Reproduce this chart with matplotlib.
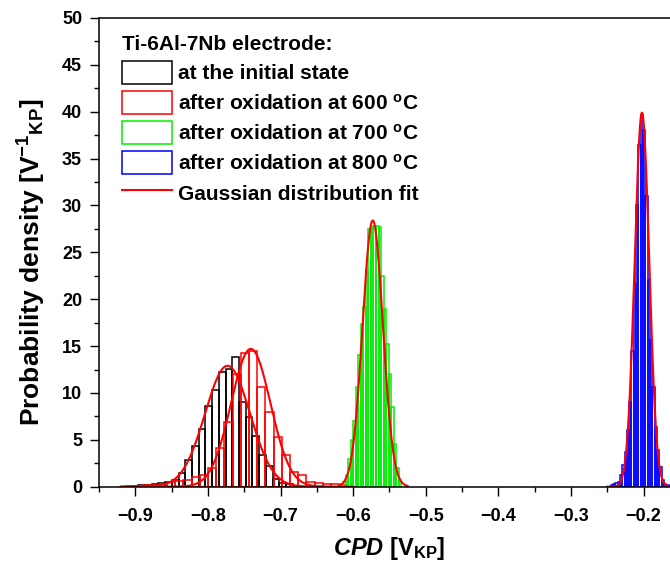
import numpy as np
import matplotlib.pyplot as plt
from matplotlib.patches import Patch
from matplotlib.lines import Line2D

plt.rcParams.update({
    'font.family': 'Liberation Sans',
    'font.weight': 'bold',
    'axes.labelweight': 'bold',
    'mathtext.fontset': 'custom',
    'mathtext.rm': 'Liberation Sans:bold',
    'mathtext.bf': 'Liberation Sans:bold',
    'mathtext.it': 'Liberation Sans:bold:italic',
    'mathtext.default': 'rm',
})

# histograms: left edge of first bin, bin width, bar heights
init_start, init_width = -0.9052, 0.00925
init_heights = [0.1, 0.15, 0.2, 0.3, 0.35, 0.5, 0.7, 1.5, 2.8, 4.3, 6.2, 8.6,
                10.3, 12.2, 12.6, 13.8, 9.0, 7.4, 5.4, 3.4, 2.2, 0.8, 0.4, 0.25]

ox600_start, ox600_width = -0.9130, 0.0113
ox600_heights = [0.05, 0.1, 0.15, 0.2, 0.3, 0.5, 0.6, 0.7, 1.0, 1.2, 2.0, 4.1,
                 6.9, 12.0, 14.3, 14.5, 10.6, 8.0, 5.3, 3.4, 1.6, 1.2, 0.5,
                 0.35, 0.3, 0.25, 0.2]

ox700_start, ox700_width = -0.6175, 0.0035
ox700_heights = [0.3, 0.5, 1.2, 3.0, 5.0, 7.0, 10.6, 14.0, 17.4, 19.2, 23.0,
                 27.5, 27.7, 27.8, 27.8, 27.7, 22.5, 19.0, 15.2, 12.0, 8.5,
                 4.6, 2.0, 0.6]

ox800_start, ox800_width = -0.2454, 0.0032
ox800_heights = [0.2, 0.3, 0.35, 0.5, 1.2, 2.3, 3.7, 6.0, 9.0, 14.5, 21.6,
                 30.0, 36.5, 39.7, 38.0, 31.0, 22.0, 15.6, 10.6, 6.4, 3.9,
                 2.1, 0.7, 0.3, 0.2, 0.1]

# Gaussian fits: centre, sigma, peak height, drawn range
fit_centres = [-0.773, -0.741, -0.573, -0.2022]
fit_sigmas = [0.0309, 0.0271, 0.0140, 0.0100]
fit_peaks = [12.9, 14.7, 28.4, 39.9]
fit_ranges = [(-0.92, -0.64), (-0.92, -0.60), (-0.62, -0.525), (-0.25, -0.15)]

labels = ["at the initial state",
          "after oxidation at 600 $^{\\mathrm{o}}$C",
          "after oxidation at 700 $^{\\mathrm{o}}$C",
          "after oxidation at 800 $^{\\mathrm{o}}$C"]
colors = ["#000000", "#ff0000", "#00f000", "#0000ff"]

hists = [(init_start, init_width, init_heights),
         (ox600_start, ox600_width, ox600_heights),
         (ox700_start, ox700_width, ox700_heights),
         (ox800_start, ox800_width, ox800_heights)]

fig = plt.figure(figsize=(6.7, 5.65), dpi=100)
ax = fig.add_axes([0.1478, 0.1386, 0.8669, 0.8296])

for (start, width, heights), col in zip(hists, colors):
    lefts = start + width * np.arange(len(heights))
    ax.bar(lefts, heights, width=width, align='edge', facecolor='none',
           edgecolor=col, linewidth=1.1)

for mu, sd, pk, (a, b) in zip(fit_centres, fit_sigmas, fit_peaks, fit_ranges):
    xs = np.linspace(a, b, 400)
    ax.plot(xs, pk * np.exp(-0.5 * ((xs - mu) / sd) ** 2), color='#ff0000', lw=1.5)

ax.set_xlim(-0.95, -0.15)
ax.set_ylim(0, 50)
ax.set_xticks(np.arange(-0.9, -0.15, 0.1))
ax.set_xticks(np.arange(-0.95, -0.14, 0.05), minor=True)
ax.set_yticks(np.arange(0, 51, 5))
ax.set_yticks(np.arange(0, 51, 2.5), minor=True)
ax.tick_params(which='major', direction='out', length=6.7, width=1.0,
               labelsize=13)
ax.tick_params(axis='x', which='major', pad=9)
ax.tick_params(axis='y', which='major', pad=5.5)
ax.tick_params(which='minor', direction='out', length=3.6, width=1.0)
for t in ax.get_xticklabels() + ax.get_yticklabels():
    t.set_fontweight('bold')
for s in ax.spines.values():
    s.set_linewidth(1.1)

ax.set_xlabel("$\\mathit{CPD}$ [V$_{\\mathrm{KP}}$]", fontsize=17,
              fontweight='bold', labelpad=7)
ax.set_ylabel("Probability density [V$^{-1}$$_{\\mathrm{KP}}$]", fontsize=19,
              fontweight='bold')
ax.yaxis.set_label_coords(-0.087, 0.478)

handles = [Patch(facecolor='white', edgecolor=c, linewidth=1.1) for c in colors]
handles.append(Line2D([], [], color='#ff0000', lw=1.5))
leg = fig.legend(handles, labels + ["Gaussian distribution fit"],
                 title="Ti-6Al-7Nb electrode:", loc='upper left',
                 bbox_to_anchor=(0.182, 0.938), frameon=False, borderpad=0,
                 borderaxespad=0, handlelength=2.4, handleheight=1.35,
                 labelspacing=0.32, handletextpad=0.3, alignment='left',
                 prop={'weight': 'bold', 'size': 15})
leg.get_title().set_fontweight('bold')
leg.get_title().set_fontsize(15)

fig.savefig("out.png", dpi=100)
